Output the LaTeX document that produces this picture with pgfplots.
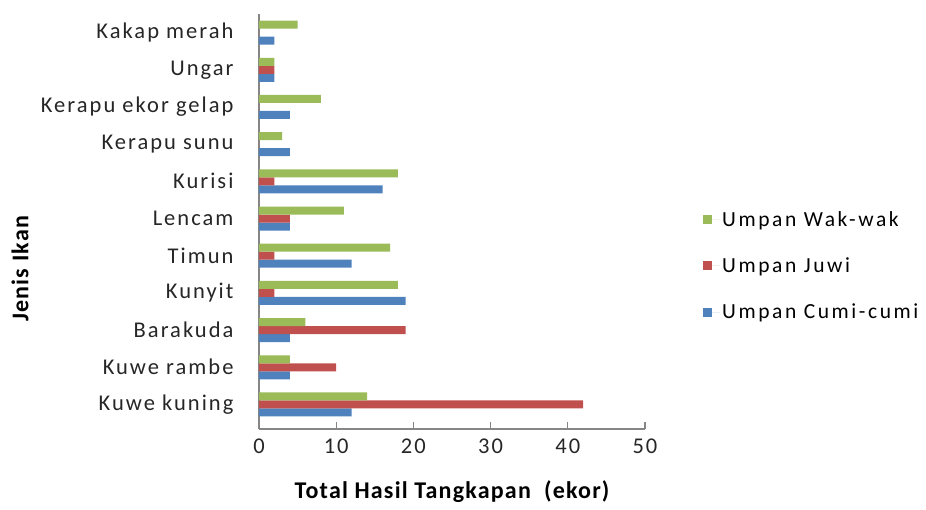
\documentclass[border=0pt]{standalone}
\usepackage{fontspec}
\setmainfont{Carlito}
\newfontfamily\lblfont[LetterSpace=9]{Carlito}
\newfontfamily\legfont[LetterSpace=12]{Carlito}
\newfontfamily\boldlbl[LetterSpace=5]{Carlito}
\usepackage{pgfplots}
\pgfplotsset{compat=1.18}

\definecolor{wakgreen}{HTML}{9BBB59}
\definecolor{juwired}{HTML}{C0504D}
\definecolor{cumiblue}{HTML}{4F81BD}
\definecolor{axgray}{HTML}{868686}

\begin{document}
\begin{tikzpicture}[x=1pt,y=1pt]
    % page frame, 926 x 510
    \path (-259,-81) rectangle (667,429);

    \begin{axis}[
        at={(0,0)}, anchor=south west,
        scale only axis,
        width=386pt, height=415pt,
        xbar=0pt, bar width=8pt,
        xmin=0, xmax=50,
        xtick={0,10,20,30,40,50},
        ymin=-0.66, ymax=10.5,
        ytick={0,...,10},
        yticklabels={Kuwe kuning, Kuwe rambe, Barakuda, Kunyit, Timun, Lencam,
                     Kurisi, Kerapu sunu, Kerapu ekor gelap, Ungar, Kakap merah},
        axis x line*=bottom, axis y line*=left,
        axis line style={axgray, line width=1.2pt},
        x axis line style={-}, y axis line style={-},
        major tick length=7pt,
        xtick style={axgray, line width=1.2pt},
        xtick pos=bottom, xtick align=inside,
        ytick style={draw=none},
        /pgf/number format/assume math mode=true,
        tick label style={font=\lblfont\fontsize{22.5}{26}\selectfont, color=black!85},
        yticklabel style={xshift=-15pt},
        xticklabel style={yshift=-6pt},
        xlabel={Total Hasil Tangkapan\ \ (ekor)},
        ylabel={Jenis Ikan},
        label style={font=\boldlbl\fontsize{24}{28}\selectfont\bfseries},
        xlabel style={at={(axis description cs:0.5,0)}, anchor=center, yshift=-63pt},
        ylabel style={at={(axis description cs:-0.619,0.386)}, anchor=center},
        legend style={at={(rel axis cs:1.1425,0.393)}, anchor=west, draw=none,
                      font=\legfont\fontsize{21.5}{25}\selectfont, row sep=26pt,
                      cells={anchor=west}},
        reverse legend,
        legend image code/.code={
            \fill[#1] (0pt,-4.5pt) rectangle (9pt,4.5pt);
            \path (0pt,0pt) -- (17pt,0pt);
        },
    ]

    % Umpan Cumi-cumi
    \addplot[fill=cumiblue, draw=none] coordinates {
        (12,0) (4,1) (4,2) (19,3) (12,4) (4,5) (16,6) (4,7) (4,8) (2,9) (2,10)
    };
    % Umpan Juwi
    \addplot[fill=juwired, draw=none] coordinates {
        (42,0) (10,1) (19,2) (2,3) (2,4) (4,5) (2,6) (0,7) (0,8) (2,9) (0,10)
    };
    % Umpan Wak-wak
    \addplot[fill=wakgreen, draw=none] coordinates {
        (14,0) (4,1) (6,2) (18,3) (17,4) (11,5) (18,6) (3,7) (8,8) (2,9) (5,10)
    };

    \legend{Umpan Cumi-cumi, Umpan Juwi, Umpan Wak-wak}
    \end{axis}
\end{tikzpicture}
\end{document}
